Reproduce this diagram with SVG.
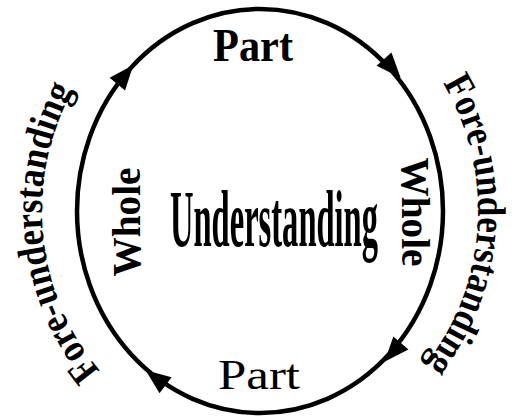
<svg xmlns="http://www.w3.org/2000/svg" xmlns:xlink="http://www.w3.org/1999/xlink" width="518" height="420" viewBox="0 0 518 420">
<style>
.t{font-family:"Liberation Serif","Times New Roman",serif;fill:#000;font-weight:bold}
.n{font-weight:normal}
.ring{fill:none;stroke:#000;stroke-width:4.5}
</style>
<defs>
<polygon id="ah" points="13,0 -12,-10 -12,10" fill="#000"/>
<path id="pl" d="M 138.1 405.8 A 218 235 0 0 1 103.2 47.7" fill="none"/>
<path id="pr" d="M 411.5 42.0 A 218 235 0 0 1 388.2 401.1" fill="none"/>
</defs>
<rect width="518" height="420" fill="#fff"/>
<g id="connectors">
<ellipse class="ring" cx="260" cy="211" rx="183" ry="202"/>
<use xlink:href="#ah" transform="translate(125,75) rotate(-50.4)"/>
<use xlink:href="#ah" transform="translate(392,68) rotate(48.2)"/>
<use xlink:href="#ah" transform="translate(393,352) rotate(131.2)"/>
<use xlink:href="#ah" transform="translate(156,378) rotate(217.1)"/>
</g>
<g id="understanding"><text class="t" x="274" y="246" font-size="80" text-anchor="middle" textLength="208" lengthAdjust="spacingAndGlyphs">Understanding</text></g>
<g id="part-top"><text class="t" x="253" y="61" font-size="46" text-anchor="middle" textLength="80" lengthAdjust="spacingAndGlyphs">Part</text></g>
<g id="part-bottom"><text class="t n" x="259" y="389" font-size="42" text-anchor="middle" textLength="82" lengthAdjust="spacingAndGlyphs">Part</text></g>
<g id="whole-left"><text class="t" transform="translate(140,222) rotate(-90)" font-size="40" text-anchor="middle" textLength="109" lengthAdjust="spacingAndGlyphs">Whole</text></g>
<g id="whole-right"><text class="t" transform="translate(402,212) rotate(90)" font-size="40" text-anchor="middle" textLength="109" lengthAdjust="spacingAndGlyphs">Whole</text></g>
<g id="fore-left"><text class="t" font-size="40"><textPath xlink:href="#pl" startOffset="50%" text-anchor="middle" textLength="300" lengthAdjust="spacingAndGlyphs">Fore-understanding</textPath></text></g>
<g id="fore-right"><text class="t" font-size="40"><textPath xlink:href="#pr" startOffset="50%" text-anchor="middle" textLength="300" lengthAdjust="spacingAndGlyphs">Fore-understanding</textPath></text></g>
</svg>
